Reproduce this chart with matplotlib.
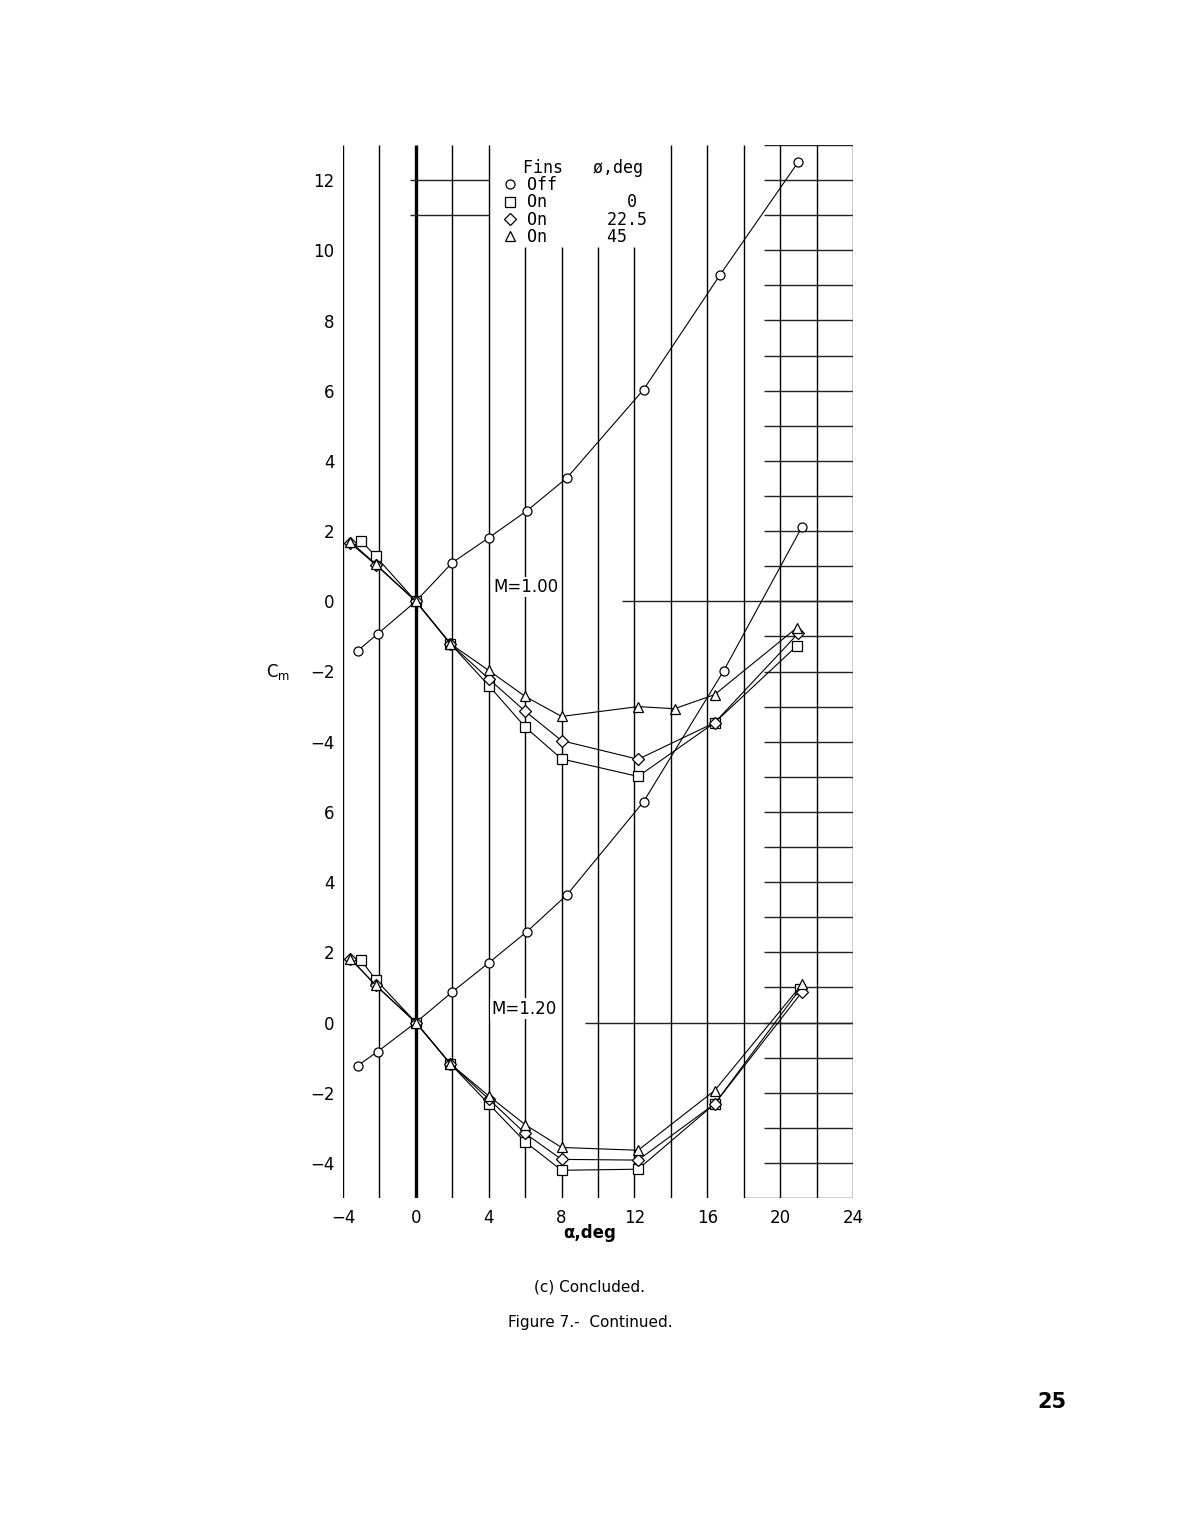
import matplotlib
matplotlib.use("Agg")
import matplotlib.pyplot as plt
from matplotlib.lines import Line2D
import numpy as np

# --- data --------------------------------------------------------
# M = 1.00 (upper plot)
a100_off = [-3.2, -2.1, 0.0, 2.0, 4.0, 6.1, 8.3, 12.5, 16.7, 21.0]
cm100_off = [-1.41, -0.93, 0.0, 1.10, 1.81, 2.58, 3.52, 6.03, 9.30, 12.52]
a100_sq = [-3.0, -2.2, 0.0, 1.9, 4.0, 6.0, 8.0, 12.2, 16.4, 20.9]
cm100_sq = [1.72, 1.28, 0.0, -1.21, -2.40, -3.58, -4.49, -4.99, -3.46, -1.28]
a100_dm = [-3.6, -2.2, 0.0, 1.9, 4.0, 6.0, 8.0, 12.2, 16.4, 21.0]
cm100_dm = [1.66, 1.04, 0.0, -1.21, -2.21, -3.13, -3.97, -4.50, -3.46, -0.91]
a100_tr = [-3.6, -2.2, 0.0, 1.9, 4.0, 6.0, 8.0, 12.2, 14.2, 16.4, 20.9]
cm100_tr = [1.70, 1.06, 0.0, -1.21, -1.97, -2.71, -3.28, -3.00, -3.06, -2.66, -0.76]

# M = 1.20 (lower plot)
a120_off = [-3.2, -2.1, 0.0, 2.0, 4.0, 6.1, 8.3, 12.5, 16.9, 21.2]
cm120_off = [-1.23, -0.83, 0.0, 0.87, 1.70, 2.59, 3.64, 6.29, 10.02, 14.12]
a120_sq = [-3.0, -2.2, 0.0, 1.9, 4.0, 6.0, 8.0, 12.2, 16.4, 21.1]
cm120_sq = [1.77, 1.22, 0.0, -1.18, -2.32, -3.40, -4.21, -4.18, -2.32, 0.96]
a120_dm = [-3.6, -2.2, 0.0, 1.9, 4.0, 6.0, 8.0, 12.2, 16.4, 21.2]
cm120_dm = [1.82, 1.06, 0.0, -1.18, -2.18, -3.16, -3.90, -3.92, -2.32, 0.87]
a120_tr = [-3.6, -2.2, 0.0, 1.9, 4.0, 6.0, 8.0, 12.2, 16.4, 21.2]
cm120_tr = [1.82, 1.06, 0.0, -1.18, -2.09, -2.91, -3.56, -3.64, -1.94, 1.09]

x_ticks = [-4, 0, 4, 8, 12, 16, 20, 24]
y_ticks = [12, 10, 8, 6, 4, 2, 0, -2, -4, -6, -8, -10, -12, -14, -16]
y_labels = ["12", "10", "8", "6", "4", "2", "0", "\u22122", "\u22124",
            "6", "4", "2", "0", "\u22122", "\u22124"]

legend_labels = ["Off", "On        0", "On      22.5", "On      45"]
legend_title = "  Fins   \u00f8,deg"

LOWER_SHIFT = -12  # lower plot is drawn 12 units below the upper one

# --- figure ---------------------------------------------------------
W, H = 1184, 1520
fig = plt.figure(figsize=(W / 100, H / 100), dpi=100)
ax = fig.add_axes([343 / W, 1 - 1198 / H, 510 / W, 1053 / H])
ax.set_xlim(-4, 24)
ax.set_ylim(-17, 13)
for s in ax.spines.values():
    s.set_visible(False)

# grid: vertical lines every 2 deg, partial horizontal lines at right
for xv in np.arange(-4, 25, 2):
    top = 10.1 if 6 <= xv <= 12 else 13
    lw = 2.4 if xv == 0 else 1.0
    ax.vlines(xv, -17, top, color="black", lw=lw, zorder=1)
for yv in np.arange(-16, 14, 1):
    ax.hlines(yv, 19.1, 24, color="#222222", lw=1.0, zorder=1)
ax.hlines(0, 11.3, 24, color="#222222", lw=1.0, zorder=1)
ax.hlines(LOWER_SHIFT, 9.3, 24, color="#222222", lw=1.0, zorder=1)
ax.hlines([12, 11], -0.3, 4, color="#222222", lw=1.0, zorder=1)
ax.hlines(-17, 18, 24, color="#222222", lw=1.0, zorder=1)

ax.set_xticks(x_ticks)
ax.set_xticklabels([str(v).replace("-", "\u2212") for v in x_ticks])
ax.set_yticks(y_ticks)
ax.set_yticklabels(y_labels)
ax.tick_params(length=0, labelsize=12, pad=6)
ax.tick_params(axis="x", pad=8)

style = dict(color="black", lw=0.8, mfc="white", mec="black", mew=0.9, zorder=3)
series = [
    (a100_off, cm100_off, "o", 6.5, 0),
    (a100_sq, cm100_sq, "s", 6.5, 0),
    (a100_dm, cm100_dm, "D", 6.0, 0),
    (a100_tr, cm100_tr, "^", 7.5, 0),
    (a120_off, cm120_off, "o", 6.5, LOWER_SHIFT),
    (a120_sq, cm120_sq, "s", 6.5, LOWER_SHIFT),
    (a120_dm, cm120_dm, "D", 6.0, LOWER_SHIFT),
    (a120_tr, cm120_tr, "^", 7.5, LOWER_SHIFT),
]
for a, cm, mk, ms, shift in series:
    ax.plot(a, np.array(cm) + shift, marker=mk, ms=ms, **style)

ax.text(4.25, 0.41, "M=1.00", fontsize=12, va="center", ha="left", zorder=2,
        bbox=dict(facecolor="white", edgecolor="none", pad=1))
ax.text(4.12, LOWER_SHIFT + 0.39, "M=1.20", fontsize=12, va="center", ha="left",
        zorder=2, bbox=dict(facecolor="white", edgecolor="none", pad=1))

handles = [Line2D([], [], ls="none", marker=m, ms=s, mfc="white", mec="black", mew=0.9)
           for m, s in [("o", 6.5), ("s", 6.5), ("D", 6.0), ("^", 7.5)]]
leg = ax.legend(handles, legend_labels, title=legend_title, loc="upper left",
                bbox_to_anchor=(4.8, 12.6), bbox_transform=ax.transData,
                frameon=False, prop=dict(family="DejaVu Sans Mono", size=12),
                title_fontproperties=dict(family="DejaVu Sans Mono", size=12),
                alignment="left", handlelength=0.8, handletextpad=0.6,
                labelspacing=-0.05, borderpad=0, borderaxespad=0)

fig.text(278 / W, 1 - 672 / H, "C$_{\\mathrm{m}}$", fontsize=12, ha="center", va="center")
fig.text(590 / W, 1 - 1233 / H, "\u03b1,deg", fontsize=12, fontweight="bold",
         ha="center", va="center")
cap = ["Liberation Sans Narrow", "DejaVu Sans"]
fig.text(590 / W, 1 - 1287 / H, "(c) Concluded.", family=cap, fontsize=11,
         ha="center", va="center")
fig.text(590 / W, 1 - 1322 / H, "Figure 7.-  Continued.", family=cap, fontsize=11,
         ha="center", va="center")
fig.text(1052 / W, 1 - 1402 / H, "25", fontsize=15, fontweight="bold",
         ha="center", va="center")

fig.savefig("out.png", dpi=100, facecolor="white")
